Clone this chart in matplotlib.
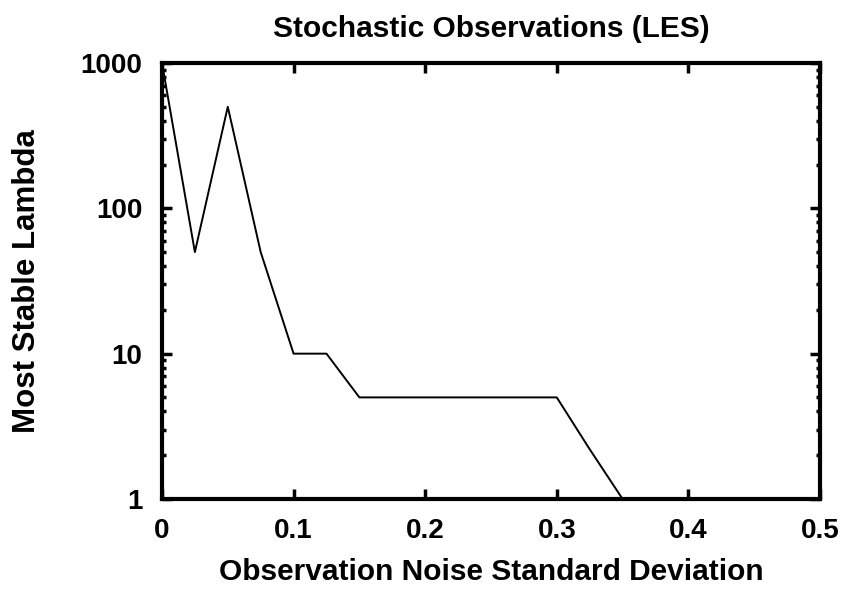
import matplotlib
matplotlib.use("Agg")
import matplotlib.pyplot as plt
from matplotlib.ticker import LogLocator, NullFormatter

# data
noise_std = [0.0, 0.025, 0.05, 0.075, 0.1, 0.125, 0.15, 0.175, 0.2, 0.225, 0.25, 0.275, 0.3, 0.325, 0.35, 0.375, 0.4, 0.425, 0.45, 0.475, 0.5]
stable_lambda = [1000, 50, 500, 50, 10, 10, 5, 5, 5, 5, 5, 5, 5, 2.2, 1, 1, 1, 1, 1, 1, 1]
x_ticks = [0, 0.1, 0.2, 0.3, 0.4, 0.5]
x_labels = ["0", "0.1", "0.2", "0.3", "0.4", "0.5"]
y_ticks = [1, 10, 100, 1000]
y_labels = ["1", "10", "100", "1000"]

plt.rcParams["font.family"] = ["Liberation Sans", "DejaVu Sans"]
plt.rcParams["font.weight"] = "bold"

fig = plt.figure(figsize=(8.49, 5.91), dpi=100)
ax = fig.add_axes([0.1908, 0.1557, 0.775, 0.7377])

ax.plot(noise_std, stable_lambda, color="black", linewidth=1.4)
ax.set_yscale("log")
ax.set_xlim(0, 0.5)
ax.set_ylim(1, 1000)

ax.set_xticks(x_ticks)
ax.set_xticklabels(x_labels)
ax.set_yticks(y_ticks)
ax.set_yticklabels(y_labels)
ax.yaxis.set_minor_locator(LogLocator(base=10, subs=range(2, 10)))
ax.yaxis.set_minor_formatter(NullFormatter())

ax.tick_params(which="both", direction="in", top=True, right=True, width=2.5,
               labelsize=20)
ax.tick_params(axis="x", pad=14)
ax.tick_params(axis="y", pad=14)
ax.tick_params(which="major", length=7)
ax.tick_params(which="minor", length=3)
for s in ax.spines.values():
    s.set_linewidth(3)

ax.set_xlabel("Observation Noise Standard Deviation", fontsize=21.5, fontweight="bold", labelpad=10)
ax.set_ylabel("Most Stable Lambda", fontsize=22.5, fontweight="bold", labelpad=28)
ax.set_title("Stochastic Observations (LES)", fontsize=21.5, fontweight="bold", pad=19)

plt.savefig("out.png", dpi=100)
